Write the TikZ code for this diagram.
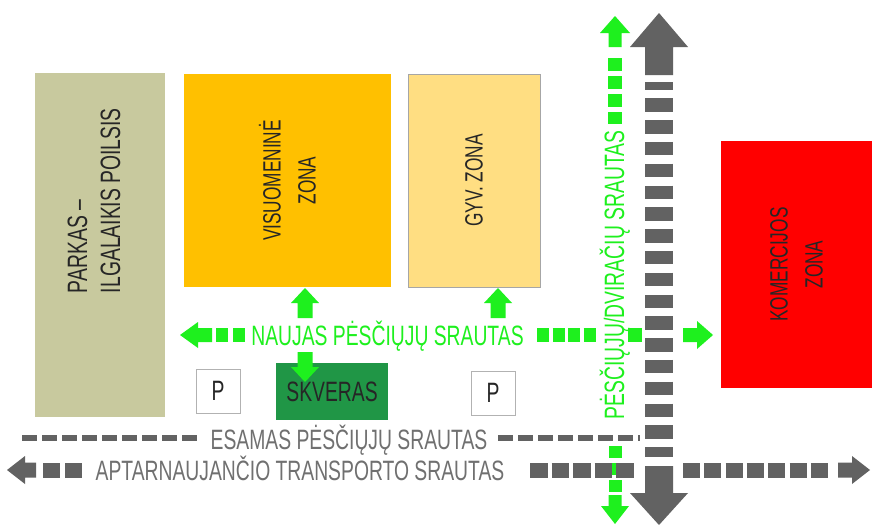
\documentclass[tikz,border=0pt]{standalone}
\usepackage{fontspec}
\setmainfont{Liberation Sans}[FakeStretch=0.69]
\definecolor{parkcol}{RGB}{200,201,158}
\definecolor{viscol}{RGB}{255,192,0}
\definecolor{gyvcol}{RGB}{255,222,130}
\definecolor{skvcol}{RGB}{32,150,70}
\definecolor{grn}{RGB}{30,240,30}
\definecolor{arrgray}{RGB}{98,98,98}
\definecolor{txtgray}{RGB}{112,112,112}

\begin{document}
\begin{tikzpicture}[x=1pt,y=-1pt,
    box/.style={inner sep=0pt, outer sep=0pt, align=center, text=black!85, font=\fontsize{25}{35}\selectfont},
    flowtxt/.style={inner sep=0pt, font=\fontsize{28}{33}\selectfont, text height=20pt, text depth=0pt},
    esam/.style={draw=arrgray, line width=6pt, dash pattern=on 15pt off 5pt}]
    \path[use as bounding box, fill=white] (0,0) rectangle (872,525);

    \node[box, fill=parkcol, minimum width=130pt, minimum height=344pt] (parkas) at (100,245) {};
    \node[box, rotate=90, anchor=west, align=left, font=\fontsize{28}{33}\selectfont] (parktxt) at (94,293) {PARKAS –\\ILGALAIKIS POILSIS};
    \node[box, fill=viscol, rotate=90, minimum width=213pt, minimum height=207pt] (visz) at (287.5,180.5) {VISUOMENINĖ\\ZONA};
    \node[box, fill=gyvcol, draw=gray!70, line width=0.8pt, rotate=90, minimum width=213pt, minimum height=132pt] (gyvz) at (474,180.5) {GYV. ZONA};
    \node[box, fill=red, rotate=90, minimum width=247pt, minimum height=151pt] (komz) at (796.5,264.5) {KOMERCIJOS\\ZONA};
    \node[box, fill=skvcol, minimum width=112pt, minimum height=57pt, font=\fontsize{28}{33}\selectfont] (skv) at (332,391.5) {SKVERAS};
    \node[box, fill=white, draw=gray!60, line width=0.8pt, minimum size=44pt, font=\fontsize{28}{33}\selectfont] (p1) at (218,391) {P};
    \node[box, fill=white, draw=gray!60, line width=0.8pt, minimum size=44pt, font=\fontsize{28}{33}\selectfont] (p2) at (493,393) {P};

    \node[flowtxt, text=grn] (naujas) at (387.5,335) {NAUJAS PĖSČIŲJŲ SRAUTAS};
    \node[flowtxt, text=txtgray] (esamas) at (349,439) {ESAMAS PĖSČIŲJŲ SRAUTAS};
    \node[flowtxt, text=txtgray] (aptarn) at (300,470) {APTARNAUJANČIO TRANSPORTO SRAUTAS};
    \node[flowtxt, text=grn, rotate=90] (dvir) at (614,275) {PĖSČIŲJŲ/DVIRAČIŲ SRAUTAS};

    \fill[grn] (305,288) -- (319,303) -- (312.5,303) -- (312.5,318) -- (297.5,318) -- (297.5,303) -- (291,303) -- cycle;
    \fill[grn] (305,382) -- (319,367) -- (312.5,367) -- (312.5,352) -- (297.5,352) -- (297.5,367) -- (291,367) -- cycle;
    \fill[grn] (498,288) -- (512,303) -- (505.5,303) -- (505.5,318) -- (490.5,318) -- (490.5,303) -- (484,303) -- cycle;

    \fill[grn] (180,335) -- (198,322) -- (198,328) -- (212,328) -- (212,342) -- (198,342) -- (198,348) -- cycle;
    \draw[grn, line width=14pt, dash pattern=on 12pt off 5pt] (216,335) -- (245,335);
    \draw[grn, line width=14pt, dash pattern=on 12pt off 3.5pt] (537,335) -- (598,335);
    \draw[grn, line width=14pt] (628,335) -- (642,335);
    \fill[grn] (713,335) -- (697,321) -- (697,328) -- (683,328) -- (683,342) -- (697,342) -- (697,349) -- cycle;

    \fill[grn] (615,16) -- (630,33) -- (621.5,33) -- (621.5,47) -- (608.5,47) -- (608.5,33) -- (600,33) -- cycle;
    \draw[grn, line width=14pt, dash pattern=on 12.5pt off 5.5pt] (615,58) -- (615,124);
    \draw[grn, line width=13pt, dash pattern=on 12pt off 5pt] (615,446) -- (615,492);
    \fill[grn] (615,524) -- (629,506) -- (621.5,506) -- (621.5,495) -- (608.5,495) -- (608.5,506) -- (601,506) -- cycle;

    \fill[arrgray] (659,13) -- (688,47) -- (673,47) -- (673,75) -- (645,75) -- (645,47) -- (630,47) -- cycle;
    \draw[arrgray, line width=28pt, dash pattern=on 13.5pt off 8.3pt, dash phase=5.5pt] (659,82) -- (659,457);
    \fill[arrgray] (659,525) -- (688,493) -- (673,493) -- (673,466) -- (645,466) -- (645,493) -- (630,493) -- cycle;

    \draw[esam] (22,438) -- (197,438);
    \draw[esam] (498,438) -- (640,438);

    \fill[arrgray] (7,470) -- (25,456) -- (25,462.5) -- (36,462.5) -- (36,477.5) -- (25,477.5) -- (25,484) -- cycle;
    \draw[arrgray, line width=15pt, dash pattern=on 17pt off 5pt] (43,470) -- (82,470);
    \draw[arrgray, line width=15pt, dash pattern=on 17.5pt off 4pt] (530,470) -- (634,470);
    \draw[arrgray, line width=15pt, dash pattern=on 17pt off 4.3pt] (683,470) -- (828,470);
    \fill[arrgray] (870,470) -- (852,456) -- (852,462.5) -- (838,462.5) -- (838,477.5) -- (852,477.5) -- (852,484) -- cycle;
\end{tikzpicture}
\end{document}
